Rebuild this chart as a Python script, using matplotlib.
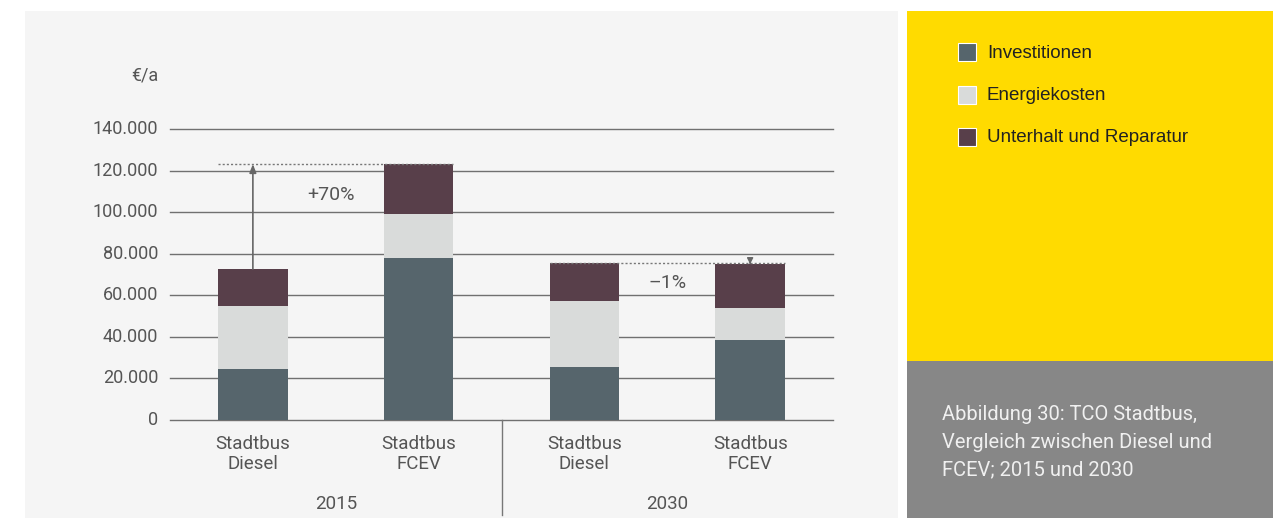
import matplotlib
matplotlib.use("Agg")
import matplotlib.pyplot as plt
from matplotlib.patches import Rectangle
import numpy as np

# ---- data ----
categories = ["Stadtbus\nDiesel", "Stadtbus\nFCEV", "Stadtbus\nDiesel", "Stadtbus\nFCEV"]
years = ["2015", "2030"]
investitionen = [24500, 78000, 25600, 38600]
energiekosten = [30300, 21000, 31600, 15200]
unterhalt = [17800, 24100, 18400, 21200]
series_names = ["Investitionen", "Energiekosten", "Unterhalt und Reparatur"]
yticks = [0, 20000, 40000, 60000, 80000, 100000, 120000, 140000]
ytick_labels = ["0", "20.000", "40.000", "60.000", "80.000", "100.000", "120.000", "140.000"]
changes = ["+70%", "\u20131%"]
caption = "Abbildung 30: TCO Stadtbus,\nVergleich zwischen Diesel und\nFCEV; 2015 und 2030"

colors = ["#56656c", "#d9dbda", "#583f4a"]
TXT = "#555555"
GRID = "#707070"

W, H = 1288, 522
fig = plt.figure(figsize=(W / 100, H / 100), dpi=100)
fig.patch.set_facecolor("white")

def fx(px):
    return px / W

def fy(py):
    return 1 - py / H

# background panels
fig.add_artist(Rectangle((fx(25), fy(518)), fx(898 - 25), (518 - 11) / H,
                         transform=fig.transFigure, facecolor="#f5f5f5", edgecolor="none", zorder=0))
fig.add_artist(Rectangle((fx(907), fy(361)), fx(1273 - 907), (361 - 11) / H,
                         transform=fig.transFigure, facecolor="#ffdb00", edgecolor="none", zorder=0))
fig.add_artist(Rectangle((fx(907), fy(518)), fx(1273 - 907), (518 - 361) / H,
                         transform=fig.transFigure, facecolor="#878787", edgecolor="none", zorder=0))

# axes
ax = fig.add_axes([fx(170), fy(420), fx(833 - 170), (420 - 129) / H])
ax.set_facecolor("none")
ax.set_xlim(-0.5, 3.5)
ax.set_ylim(0, 140000)
for s in ax.spines.values():
    s.set_visible(False)
ax.set_xticks([])
ax.set_yticks([])

for t in yticks:
    ax.axhline(t, color=GRID, lw=1.0, zorder=1, clip_on=False)

x = np.arange(len(categories))
bw = 0.42
inv = np.array(investitionen)
en = np.array(energiekosten)
un = np.array(unterhalt)
ax.bar(x, inv, bw, color=colors[0], zorder=2)
ax.bar(x, en, bw, bottom=inv, color=colors[1], zorder=2)
ax.bar(x, un, bw, bottom=inv + en, color=colors[2], zorder=2)
tot = inv + en + un

# y tick labels
for t, lab in zip(yticks, ytick_labels):
    ax.text(-0.57, t, lab, ha="right", va="center", fontsize=13, color=TXT,
            family="Roboto", transform=ax.transData, clip_on=False)
fig.text(fx(158), fy(75), "\u20ac/a", ha="right", va="center", fontsize=13,
         color=TXT, family="Roboto")

# comparison annotations
# 2015
ax.plot([x[0] - bw / 2, x[1] + bw / 2], [tot[1], tot[1]], color="#777777", lw=1.0,
        ls=(0, (1.5, 1.5)), zorder=3)
ax.annotate("", xy=(x[0], tot[1]), xytext=(x[0], tot[0]),
            arrowprops=dict(arrowstyle="-|>,head_length=0.5,head_width=0.2", color="#666666", lw=1.2,
                            shrinkA=0, shrinkB=0), zorder=3)
ax.text((x[0] + x[1]) / 2 - 0.03, tot[1] - 15000, changes[0], ha="center", va="center",
        fontsize=14, color=TXT, family="Roboto")
# 2030
ax.plot([x[2] - bw / 2, x[3] + bw / 2], [tot[2], tot[2]], color="#777777", lw=1.0,
        ls=(0, (1.5, 1.5)), zorder=3)
ax.annotate("", xy=(x[3], tot[3]), xytext=(x[3], tot[2]),
            arrowprops=dict(arrowstyle="-|>,head_length=0.35,head_width=0.18", color="#666666", lw=1.0,
                            shrinkA=0, shrinkB=0), zorder=3)
ax.text((x[2] + x[3]) / 2, tot[2] - 9500, changes[1], ha="center", va="center",
        fontsize=14, color=TXT, family="Roboto")

# category labels
for xi, lab in zip(x, categories):
    ax.text(xi, -7000, lab, ha="center", va="top", fontsize=13.5, color=TXT,
            family="Roboto", linespacing=1.15, clip_on=False)
for i, yr in enumerate(years):
    ax.text(x[2 * i] + 0.5, -40500, yr, ha="center", va="center", fontsize=13.5,
            color=TXT, family="Roboto", clip_on=False)

# separator
fig.add_artist(plt.Line2D([fx(502), fx(502)], [fy(420), fy(515)], color="#777777", lw=1.0))

# legend
ly = [52, 95, 137]
for yy, name, c in zip(ly, series_names, colors):
    fig.add_artist(Rectangle((fx(958), fy(yy + 9)), fx(18), 18 / H, transform=fig.transFigure,
                             facecolor=c, edgecolor="white", lw=0.8))
    fig.text(fx(987), fy(yy + 1), name, ha="left", va="center", fontsize=13.5,
             color="#222222", family="Liberation Sans")

# caption
fig.text(fx(942), fy(442), caption, ha="left", va="center", fontsize=14.5,
         color="#f0f0f0", family="Roboto", linespacing=1.6)

fig.savefig("out.png", dpi=100)
